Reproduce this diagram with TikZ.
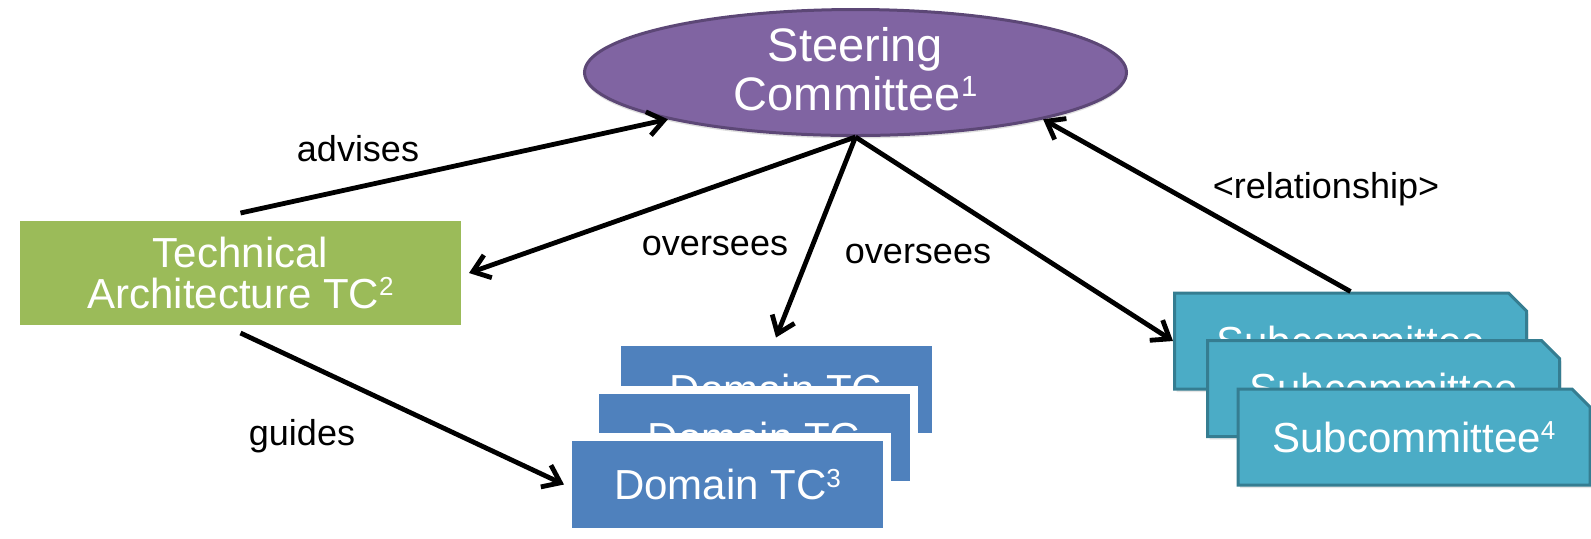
\documentclass[tikz,border=0pt]{standalone}
\usepackage{fontspec}
\setmainfont{Liberation Sans}
\usetikzlibrary{arrows.meta, shapes.geometric, shapes.misc, shadows}

\definecolor{steerpurple}{HTML}{8064A2}
\definecolor{steerborder}{HTML}{5C4776}
\definecolor{archgreen}{HTML}{9BBB59}
\definecolor{domainblue}{HTML}{4F81BD}
\definecolor{subteal}{HTML}{4BACC6}
\definecolor{subborder}{HTML}{357D91}

% small raised footnote digit
\newcommand{\fnmark}[1]{\raisebox{0.3em}{\scalebox{0.62}{#1}}}

\begin{document}
\begin{tikzpicture}[
    x=0.5pt, y=-0.5pt,
    >={Straight Barb[length=8pt,width=12pt]},
    link/.style={->, line width=2.4pt, black},
    lbl/.style={font=\fontsize{18pt}{18pt}\selectfont, text=black},
    steerbox/.style={ellipse, fill=steerpurple, draw=steerborder, line width=1.5pt,
        minimum width=271pt, minimum height=63pt, inner sep=0pt,
        drop shadow={shadow xshift=0pt, shadow yshift=-1.5pt, opacity=0.25}},
    steertext/.style={text=white, align=center, font=\fontsize{23.5pt}{24.5pt}\selectfont},
    tcbox/.style={rectangle, draw=white, line width=4pt, inner sep=0pt, text=white,
        align=center, font=\fontsize{21pt}{20.5pt}\selectfont,
        drop shadow={shadow xshift=1.5pt, shadow yshift=-2pt, opacity=0.3}},
    domainbox/.style={tcbox, fill=domainblue, minimum width=159.5pt, minimum height=47.5pt},
    subbox/.style={chamfered rectangle, chamfered rectangle corners=north east,
        chamfered rectangle xsep=4.5pt, chamfered rectangle ysep=4.5pt,
        fill=subteal, draw=subborder, line width=1.5pt, inner sep=0pt,
        minimum width=176pt, minimum height=48pt, text=white,
        font=\fontsize{21pt}{21pt}\selectfont,
        drop shadow={shadow xshift=1pt, shadow yshift=-1.5pt, opacity=0.2}}
]
\useasboundingbox (0,0) rectangle (1591,538);

% steering committee
\node[steerbox] (steer) at (855.5,72.5) {};
\node[steertext] (steertxt) at (855.5,69) {Steering\\Committee\fnmark{1}};

% technical committees
\node[tcbox, fill=archgreen, minimum width=224.5pt, minimum height=56pt] (arch) at (240.5,273)
    {Technical\\Architecture TC\fnmark{2}};
\node[domainbox] (domA) at (776,389) {Domain TC};
\node[domainbox] (domB) at (754,437) {Domain TC};
\node[domainbox] (domC) at (727.5,484.5) {Domain TC\fnmark{3}};

% subcommittees
\node[subbox] (subA) at (1350.5,341) {Subcommittee};
\node[subbox] (subB) at (1383.5,388.5) {Subcommittee};
\node[subbox] (subC) at (1414,437) {Subcommittee\fnmark{4}};

% arrows
\draw[link] (arch.north) -- (steer.194);
\draw[link] (steer.south) -- (arch.east);
\draw[link] (steer.south) -- (domA.north);
\draw[link] (steer.south) -- (subA.west);
\draw[link] (subA.north) -- (steer.346);
\draw[link] (arch.south) -- (domC.west);

% labels
\node[lbl] (advises) at (358,149) {advises};
\node[lbl] (ovleft) at (715,246) {oversees};
\node[lbl] (ovright) at (918,254) {oversees};
\node[lbl] (relation) at (1326,189) {<relationship>};
\node[lbl] (guides) at (302,436) {guides};
\end{tikzpicture}
\end{document}
